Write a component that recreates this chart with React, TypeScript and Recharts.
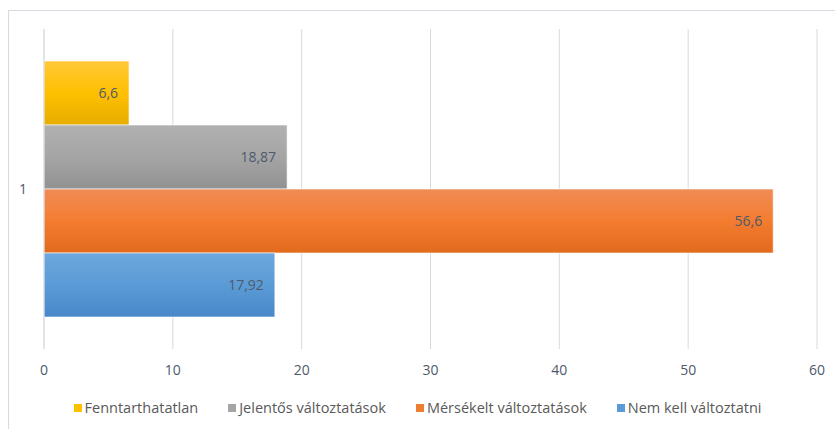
import React from 'react';
import { BarChart, Bar, XAxis, YAxis, CartesianGrid, Legend, LabelList } from 'recharts';

const categories = ['1'];
const fenntarthatatlan = [6.6];
const jelentos = [18.87];
const merseklet = [56.6];
const nemKell = [17.92];
const xTicks = [0, 10, 20, 30, 40, 50, 60];

const data = categories.map((name, i) => ({
  name,
  fenntarthatatlan: fenntarthatatlan[i],
  jelentos: jelentos[i],
  merseklet: merseklet[i],
  nemKell: nemKell[i],
}));

const series = [
  { key: 'fenntarthatatlan', label: 'Fenntarthatatlan', color: '#FFC000', grad: 'gYellow' },
  { key: 'jelentos', label: 'Jelentős változtatások', color: '#A5A5A5', grad: 'gGray' },
  { key: 'merseklet', label: 'Mérsékelt változtatások', color: '#ED7D31', grad: 'gOrange' },
  { key: 'nemKell', label: 'Nem kell változtatni', color: '#5B9BD5', grad: 'gBlue' },
];

const font = "'Open Sans', sans-serif";
const textColor = '#4E5A6C';

const fmt = (v: any) => String(v).replace('.', ',');

const LegendContent = () => (
  <div style={{ display: 'flex', justifyContent: 'center', gap: 30, fontFamily: font, fontSize: 14.5, color: '#595959' }}>
    {series.map((s) => (
      <div key={s.key} style={{ display: 'flex', alignItems: 'center' }}>
        <span style={{ width: 8, height: 8, background: s.color, display: 'inline-block', marginRight: 3 }} />
        <span>{s.label}</span>
      </div>
    ))}
  </div>
);

export default function App() {
  return (
    <div style={{ position: 'absolute', left: 0, top: 0, width: 835, height: 429, overflow: 'hidden', background: '#fff' }}>
      <div style={{ position: 'absolute', left: 8, top: 10, width: 840, height: 430, borderLeft: '1px solid #D9D9E3', borderTop: '1px solid #D9D9E3' }} />
      <BarChart
        width={835}
        height={429}
        data={data}
        layout="vertical"
        margin={{ top: 29, right: 18, left: 0, bottom: 31 }}
        barGap={0}
        barCategoryGap="10%"
        style={{ position: 'absolute', left: 0, top: 0 }}
      >
        <defs>
          <linearGradient id="gYellow" x1="0" y1="0" x2="0" y2="1">
            <stop offset="0%" stopColor="#FFC838" />
            <stop offset="50%" stopColor="#FFC000" />
            <stop offset="100%" stopColor="#E5AD00" />
          </linearGradient>
          <linearGradient id="gGray" x1="0" y1="0" x2="0" y2="1">
            <stop offset="0%" stopColor="#B1B1B1" />
            <stop offset="50%" stopColor="#A5A5A5" />
            <stop offset="100%" stopColor="#919191" />
          </linearGradient>
          <linearGradient id="gOrange" x1="0" y1="0" x2="0" y2="1">
            <stop offset="0%" stopColor="#F08C56" />
            <stop offset="50%" stopColor="#F47C30" />
            <stop offset="100%" stopColor="#E26A1C" />
          </linearGradient>
          <linearGradient id="gBlue" x1="0" y1="0" x2="0" y2="1">
            <stop offset="0%" stopColor="#6DA7DE" />
            <stop offset="50%" stopColor="#5B9BD5" />
            <stop offset="100%" stopColor="#4887C9" />
          </linearGradient>
        </defs>
        <CartesianGrid horizontal={false} stroke="#D9D9E3" />
        <XAxis
          type="number"
          domain={[0, 60]}
          ticks={xTicks}
          axisLine={false}
          tickLine={false}
          tickMargin={10}
          height={30}
          tick={{ fontSize: 14, fill: textColor, fontFamily: font }}
        />
        <YAxis
          type="category"
          dataKey="name"
          width={44}
          axisLine={{ stroke: '#D9D9E3' }}
          tickLine={false}
          tickMargin={11}
          tick={{ fontSize: 14, fill: textColor, fontFamily: font }}
        />
        <Legend
          content={<LegendContent />}
          wrapperStyle={{ top: 398, left: 0, width: 835 }}
        />
        {series.map((s) => (
          <Bar
            key={s.key}
            dataKey={s.key}
            name={s.label}
            fill={`url(#${s.grad})`}
            stroke="#FFFFFF"
            strokeOpacity={0.6}
            isAnimationActive={false}
          >
            <LabelList
              dataKey={s.key}
              position="insideRight"
              offset={11}
              formatter={fmt}
              style={{ fontSize: 14, fill: textColor, fontFamily: font }}
            />
          </Bar>
        ))}
      </BarChart>
    </div>
  );
}
